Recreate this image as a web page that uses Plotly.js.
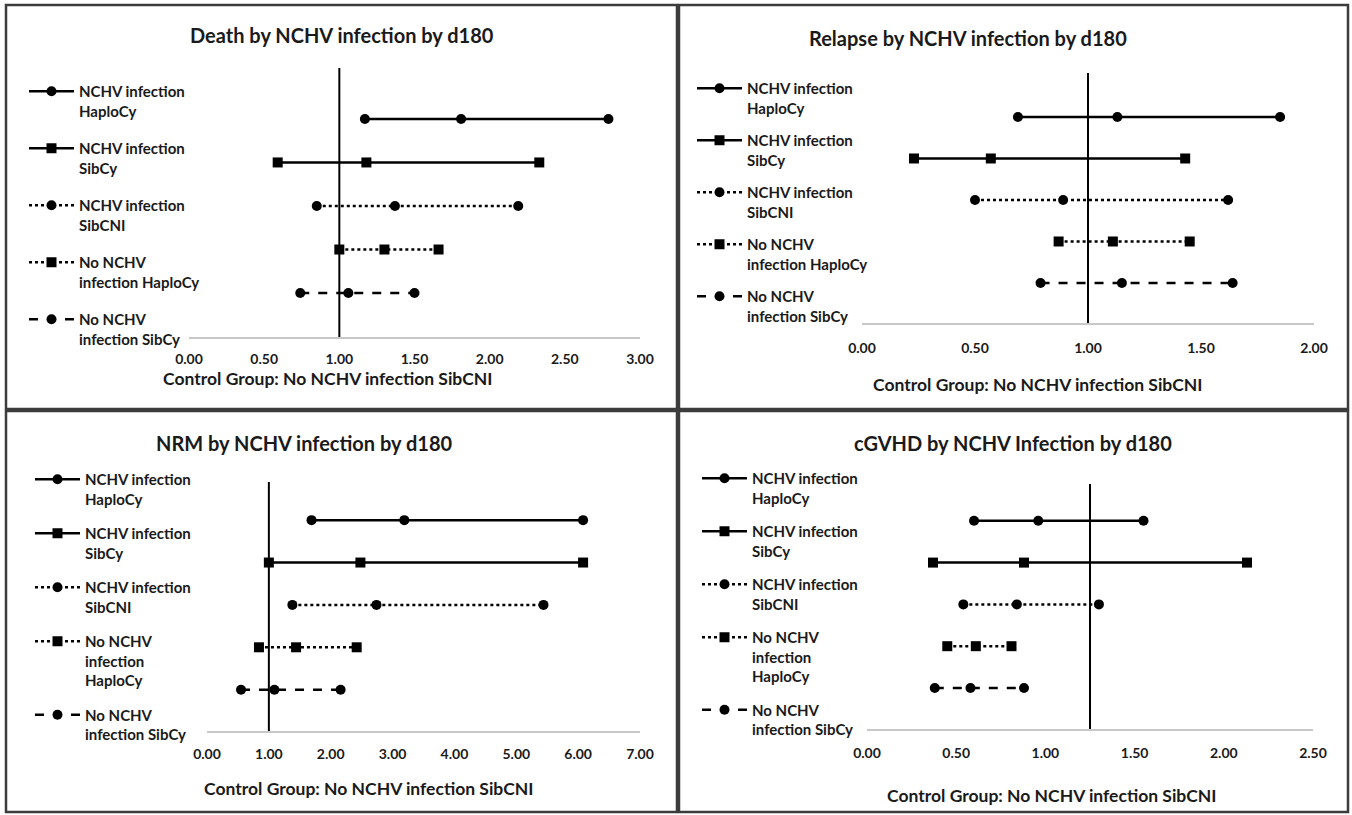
<!DOCTYPE html>
<html>
<head>
<meta charset="utf-8">
<script src="https://cdn.plot.ly/plotly-3.0.1.min.js"></script>
<style>
  html, body { margin: 0; padding: 0; background: #ffffff; }
  #chart { width: 1352px; height: 815px; }
</style>
</head>
<body>
<div id="chart"></div>
<script>
// ---------------- DATA ----------------
const panelTitles = [
  "Death by NCHV infection by d180",
  "Relapse by NCHV infection by d180",
  "NRM by NCHV infection by d180",
  "cGVHD by NCHV Infection by d180"
];
const axisTitle = "Control Group: No NCHV infection SibCNI";

const seriesNamesTop = [
  "NCHV infection<br>HaploCy",
  "NCHV infection<br>SibCy",
  "NCHV infection<br>SibCNI",
  "No NCHV<br>infection HaploCy",
  "No NCHV<br>infection SibCy"
];
const seriesNamesBottom = [
  "NCHV infection<br>HaploCy",
  "NCHV infection<br>SibCy",
  "NCHV infection<br>SibCNI",
  "No NCHV<br>infection<br>HaploCy",
  "No NCHV<br>infection SibCy"
];
const rows = [5, 4, 3, 2, 1];

const deathLow  = [1.17, 0.59, 0.85, 1.00, 0.74];
const deathEst  = [1.81, 1.18, 1.37, 1.30, 1.06];
const deathHigh = [2.79, 2.33, 2.19, 1.66, 1.50];

const relapseLow  = [0.69, 0.23, 0.50, 0.87, 0.79];
const relapseEst  = [1.13, 0.57, 0.89, 1.11, 1.15];
const relapseHigh = [1.85, 1.43, 1.62, 1.45, 1.64];

const nrmLow  = [1.69, 1.00, 1.38, 0.84, 0.55];
const nrmEst  = [3.19, 2.48, 2.74, 1.44, 1.09];
const nrmHigh = [6.08, 6.08, 5.44, 2.42, 2.16];

const cgvhdLow  = [0.60, 0.37, 0.54, 0.45, 0.38];
const cgvhdEst  = [0.96, 0.88, 0.84, 0.61, 0.58];
const cgvhdHigh = [1.55, 2.13, 1.30, 0.81, 0.88];

const referenceLines = [1.00, 1.00, 1.00, 1.25];
const xAxisMax = [3, 2, 7, 2.5];
const xAxisStep = [0.5, 0.5, 1, 0.5];

// ---------------- LAYOUT HELPERS ----------------
const W = 1352, H = 815;
const px = v => v / W;
const py = v => 1 - v / H;
const FONT = "Lato, 'Open Sans', 'DejaVu Sans', sans-serif";

const panelData = [
  {low: deathLow, est: deathEst, high: deathHigh, names: seriesNamesTop},
  {low: relapseLow, est: relapseEst, high: relapseHigh, names: seriesNamesTop},
  {low: nrmLow, est: nrmEst, high: nrmHigh, names: seriesNamesBottom},
  {low: cgvhdLow, est: cgvhdEst, high: cgvhdHigh, names: seriesNamesBottom}
];

// plot-area pixel boxes and y-ranges
const geom = [
  {x0: 189, x1: 640, top: 68,  bot: 337, yr: [-0.01, 6.17], title: [342, 35],  atitle: [328, 378],  leg: [24, 75],  gap: 15, standoff: 9,
   box: [6, 5, 677, 409]},
  {x0: 862, x1: 1314, top: 73, bot: 323, yr: [0.036, 6.06], title: [968, 38],  atitle: [1038, 385], leg: [692, 72], gap: 10, standoff: 12,
   box: [679, 5, 1348, 409]},
  {x0: 207, x1: 640, top: 482, bot: 731, yr: [0.025, 5.90], title: [304, 443], atitle: [369, 788],  leg: [30, 463], gap: 12, standoff: 10,
   box: [6, 411, 677, 812]},
  {x0: 867, x1: 1313, top: 484, bot: 729, yr: [0.019, 5.88], title: [1013, 443], atitle: [1052, 795], leg: [697, 462], gap: 11, standoff: 11,
   box: [679, 411, 1348, 812]}
];

const seriesStyle = [
  {dash: "solid", symbol: "circle"},
  {dash: "solid", symbol: "square"},
  {dash: "dot",   symbol: "circle"},
  {dash: "dot",   symbol: "square"},
  {dash: "dash",  symbol: "circle"}
];

const traces = [];
const layout = {
  width: W, height: H,
  margin: {l: 0, r: 0, t: 0, b: 0},
  paper_bgcolor: "#ffffff",
  plot_bgcolor: "rgba(0,0,0,0)",
  font: {family: FONT, color: "#1a1a1a"},
  annotations: [],
  shapes: []
};

panelData.forEach((pd, p) => {
  const g = geom[p];
  const ax = p === 0 ? "" : String(p + 1);
  const xa = "x" + ax, ya = "y" + ax;
  const legName = p === 0 ? "legend" : "legend" + (p + 1);

  // reference line
  traces.push({
    type: "scatter", mode: "lines", xaxis: xa, yaxis: ya,
    x: [referenceLines[p], referenceLines[p]], y: [g.yr[0], g.yr[1]],
    line: {color: "#000000", width: 2}, showlegend: false, hoverinfo: "skip"
  });

  pd.names.forEach((nm, i) => {
    traces.push({
      type: "scatter", mode: "lines+markers", xaxis: xa, yaxis: ya,
      x: [pd.low[i], pd.est[i], pd.high[i]],
      y: [rows[i], rows[i], rows[i]],
      name: nm, legend: legName, legendgroup: "p" + p + "s" + i,
      line: {color: "#000000", width: 2.5, dash: seriesStyle[i].dash},
      marker: {color: "#000000", size: 10, symbol: seriesStyle[i].symbol}
    });
  });

  layout["xaxis" + ax] = {
    domain: [px(g.x0), px(g.x1)], anchor: ya,
    range: [0, xAxisMax[p]], dtick: xAxisStep[p], tick0: 0, tickformat: ".2f",
    showgrid: false, zeroline: false, showline: true, linecolor: "#c8c8c8", linewidth: 1.5,
    ticks: "", ticklabelstandoff: g.standoff,
    tickfont: {family: FONT, size: 14, color: "#1a1a1a", weight: "bold"},
    fixedrange: true
  };
  layout["yaxis" + ax] = {
    domain: [py(g.bot), py(g.top)], anchor: xa,
    range: g.yr, visible: false, showgrid: false, zeroline: false, fixedrange: true
  };
  layout[legName] = {
    x: px(g.leg[0]), y: py(g.leg[1]), xanchor: "left", yanchor: "top",
    bgcolor: "rgba(0,0,0,0)", borderwidth: 0,
    valign: "top", itemwidth: 45, tracegroupgap: g.gap, traceorder: "grouped",
    font: {family: FONT, size: 15, color: "#1a1a1a", weight: "bold"}
  };

  layout.annotations.push({
    xref: "paper", yref: "paper", x: px(g.title[0]), y: py(g.title[1]),
    xanchor: "center", yanchor: "middle", showarrow: false,
    text: panelTitles[p],
    font: {family: FONT, size: 20, color: "#1a1a1a", weight: "bold"}
  });
  layout.annotations.push({
    xref: "paper", yref: "paper", x: px(g.atitle[0]), y: py(g.atitle[1]),
    xanchor: "center", yanchor: "middle", showarrow: false,
    text: axisTitle,
    font: {family: FONT, size: 17.5, color: "#1a1a1a", weight: "bold"}
  });
  layout.shapes.push({
    type: "rect", xref: "paper", yref: "paper",
    x0: px(g.box[0]), x1: px(g.box[2]), y0: py(g.box[3]), y1: py(g.box[1]),
    line: {color: "#3c3c3c", width: 2.5}, fillcolor: "rgba(0,0,0,0)", layer: "above"
  });
});

Plotly.newPlot("chart", traces, layout, {displayModeBar: false, staticPlot: true});
</script>
</body>
</html>
